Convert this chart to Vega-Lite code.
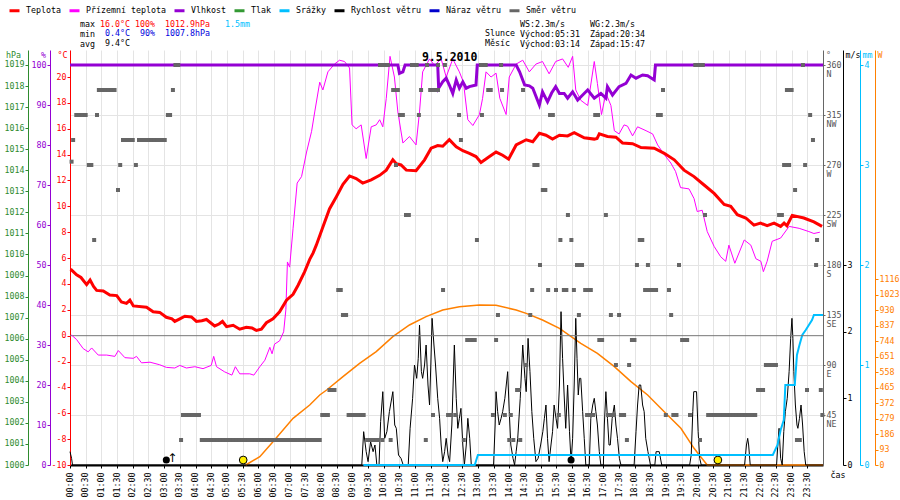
{
  "$schema": "https://vega.github.io/schema/vega-lite/v6.json",
  "width": 753,
  "height": 415,
  "autosize": {"type": "none"},
  "padding": {"left": 70, "top": 50, "right": 77, "bottom": 35},
  "background": "white",
  "config": {
    "view": {"stroke": null},
    "font": "DejaVu Sans Mono",
    "axis": {
      "labelFont": "DejaVu Sans Mono",
      "labelFontSize": 8.3,
      "titleFont": "DejaVu Sans Mono",
      "titleFontSize": 8.3,
      "titleFontWeight": "normal",
      "grid": false,
      "tickSize": 3,
      "labelPadding": 1
    },
    "legend": {
      "labelFont": "DejaVu Sans Mono",
      "labelFontSize": 8.3,
      "labelColor": "black"
    }
  },
  "datasets": {
    "temp": [
      {"h":0.02,"t":5.15},{"h":0.21,"t":4.7},{"h":0.35,"t":4.5},{"h":0.53,"t":3.95},{"h":0.64,"t":4.3},{"h":0.75,"t":3.8},{"h":0.85,"t":3.5},{"h":1.06,"t":3.45},{"h":1.27,"t":3.15},{"h":1.49,"t":3.1},{"h":1.64,"t":2.6},{"h":1.8,"t":2.5},{"h":1.91,"t":2.75},{"h":2.02,"t":2.3},{"h":2.44,"t":2.2},{"h":2.65,"t":1.85},{"h":2.86,"t":1.8},{"h":3.07,"t":1.42},{"h":3.25,"t":1.3},{"h":3.34,"t":1.1},{"h":3.5,"t":1.3},{"h":3.66,"t":1.5},{"h":3.87,"t":1.45},{"h":4.03,"t":1.1},{"h":4.2,"t":1.15},{"h":4.35,"t":1.25},{"h":4.61,"t":0.75},{"h":4.75,"t":0.9},{"h":4.86,"t":1.1},{"h":4.99,"t":0.7},{"h":5.2,"t":0.8},{"h":5.41,"t":0.5},{"h":5.62,"t":0.65},{"h":5.8,"t":0.6},{"h":5.94,"t":0.4},{"h":6.1,"t":0.5},{"h":6.26,"t":1.0},{"h":6.47,"t":1.3},{"h":6.68,"t":1.85},{"h":6.9,"t":2.75},{"h":7.11,"t":3.2},{"h":7.27,"t":3.9},{"h":7.48,"t":4.95},{"h":7.64,"t":5.9},{"h":7.75,"t":6.4},{"h":7.85,"t":7.0},{"h":8.06,"t":8.4},{"h":8.27,"t":9.8},{"h":8.49,"t":10.75},{"h":8.7,"t":11.7},{"h":8.91,"t":12.35},{"h":9.12,"t":12.15},{"h":9.33,"t":11.8},{"h":9.6,"t":12.05},{"h":9.87,"t":12.4},{"h":10.08,"t":12.8},{"h":10.29,"t":13.6},{"h":10.4,"t":13.3},{"h":10.55,"t":13.2},{"h":10.72,"t":12.8},{"h":11.03,"t":12.75},{"h":11.3,"t":13.6},{"h":11.51,"t":14.5},{"h":11.72,"t":14.7},{"h":11.88,"t":14.65},{"h":12.09,"t":15.15},{"h":12.31,"t":14.6},{"h":12.52,"t":14.3},{"h":12.73,"t":14.1},{"h":12.94,"t":13.85},{"h":13.1,"t":13.4},{"h":13.37,"t":13.85},{"h":13.58,"t":14.2},{"h":13.79,"t":13.95},{"h":13.98,"t":13.65},{"h":14.22,"t":14.75},{"h":14.54,"t":15.15},{"h":14.75,"t":15.0},{"h":14.96,"t":15.65},{"h":15.17,"t":15.5},{"h":15.38,"t":15.2},{"h":15.6,"t":15.5},{"h":15.86,"t":15.45},{"h":16.07,"t":15.7},{"h":16.39,"t":15.3},{"h":16.71,"t":15.2},{"h":16.8,"t":15.25},{"h":16.87,"t":15.6},{"h":17.13,"t":15.4},{"h":17.4,"t":15.35},{"h":17.61,"t":14.9},{"h":17.93,"t":14.85},{"h":18.2,"t":14.55},{"h":18.62,"t":14.5},{"h":18.94,"t":14.1},{"h":19.26,"t":13.6},{"h":19.57,"t":12.8},{"h":19.89,"t":12.3},{"h":20.21,"t":11.65},{"h":20.53,"t":11.0},{"h":20.85,"t":10.15},{"h":21.06,"t":10.0},{"h":21.27,"t":9.35},{"h":21.54,"t":9.1},{"h":21.8,"t":8.55},{"h":22.01,"t":8.7},{"h":22.22,"t":8.5},{"h":22.44,"t":8.7},{"h":22.65,"t":8.45},{"h":22.76,"t":8.7},{"h":22.85,"t":8.5},{"h":23.02,"t":9.3},{"h":23.39,"t":9.1},{"h":23.71,"t":8.8},{"h":23.97,"t":8.45}
    ],
    "ground": [
      {"h":0.05,"t":0.05},{"h":0.21,"t":-0.3},{"h":0.42,"t":-1.0},{"h":0.58,"t":-1.25},{"h":0.69,"t":-0.95},{"h":0.9,"t":-1.5},{"h":1.17,"t":-1.5},{"h":1.43,"t":-1.6},{"h":1.54,"t":-1.15},{"h":1.75,"t":-1.7},{"h":2.02,"t":-1.75},{"h":2.12,"t":-1.6},{"h":2.28,"t":-2.1},{"h":2.55,"t":-2.05},{"h":2.86,"t":-2.25},{"h":3.07,"t":-2.45},{"h":3.34,"t":-2.5},{"h":3.5,"t":-2.3},{"h":3.71,"t":-2.5},{"h":3.98,"t":-2.4},{"h":4.24,"t":-2.55},{"h":4.5,"t":-2.3},{"h":4.58,"t":-1.6},{"h":4.67,"t":-2.4},{"h":4.93,"t":-2.8},{"h":5.16,"t":-3.05},{"h":5.27,"t":-2.4},{"h":5.41,"t":-2.95},{"h":5.73,"t":-2.95},{"h":5.86,"t":-3.05},{"h":6.05,"t":-2.4},{"h":6.21,"t":-1.9},{"h":6.37,"t":-0.9},{"h":6.44,"t":-1.4},{"h":6.52,"t":-0.65},{"h":6.68,"t":-0.4},{"h":6.81,"t":0.3},{"h":6.88,"t":2.0},{"h":6.93,"t":5.7},{"h":7.0,"t":5.3},{"h":7.11,"t":8.3},{"h":7.24,"t":11.8},{"h":7.38,"t":12.3},{"h":7.54,"t":14.2},{"h":7.7,"t":15.8},{"h":7.8,"t":17.3},{"h":7.96,"t":19.6},{"h":8.06,"t":19.0},{"h":8.22,"t":20.4},{"h":8.43,"t":21.0},{"h":8.59,"t":21.3},{"h":8.75,"t":21.2},{"h":8.91,"t":20.7},{"h":8.99,"t":16.3},{"h":9.12,"t":16.0},{"h":9.28,"t":16.3},{"h":9.44,"t":13.7},{"h":9.6,"t":16.15},{"h":9.76,"t":16.3},{"h":9.87,"t":16.7},{"h":9.97,"t":16.15},{"h":10.08,"t":18.35},{"h":10.2,"t":21.6},{"h":10.34,"t":20.0},{"h":10.45,"t":17.3},{"h":10.61,"t":14.9},{"h":10.82,"t":15.4},{"h":11.03,"t":14.75},{"h":11.14,"t":17.3},{"h":11.24,"t":20.4},{"h":11.46,"t":21.4},{"h":11.62,"t":20.9},{"h":11.83,"t":21.4},{"h":11.99,"t":20.0},{"h":12.2,"t":21.4},{"h":12.41,"t":20.4},{"h":12.54,"t":19.6},{"h":12.68,"t":16.7},{"h":12.84,"t":16.25},{"h":13.05,"t":17.1},{"h":13.15,"t":18.35},{"h":13.26,"t":20.4},{"h":13.42,"t":20.0},{"h":13.58,"t":20.3},{"h":13.7,"t":18.35},{"h":13.9,"t":17.1},{"h":14.0,"t":20.0},{"h":14.22,"t":21.0},{"h":14.43,"t":21.3},{"h":14.64,"t":20.4},{"h":14.85,"t":21.0},{"h":15.06,"t":21.2},{"h":15.27,"t":20.25},{"h":15.48,"t":21.2},{"h":15.7,"t":21.4},{"h":15.88,"t":20.75},{"h":16.02,"t":21.6},{"h":16.12,"t":19.0},{"h":16.28,"t":18.2},{"h":16.5,"t":17.8},{"h":16.71,"t":21.2},{"h":16.81,"t":19.5},{"h":16.94,"t":17.1},{"h":17.08,"t":18.75},{"h":17.24,"t":17.8},{"h":17.35,"t":15.85},{"h":17.5,"t":15.6},{"h":17.66,"t":16.3},{"h":17.77,"t":16.2},{"h":17.93,"t":15.45},{"h":18.09,"t":16.15},{"h":18.36,"t":15.85},{"h":18.57,"t":15.6},{"h":18.73,"t":14.75},{"h":18.94,"t":14.0},{"h":19.15,"t":13.35},{"h":19.3,"t":12.7},{"h":19.46,"t":11.45},{"h":19.73,"t":11.35},{"h":19.89,"t":10.6},{"h":19.99,"t":9.6},{"h":20.15,"t":9.7},{"h":20.31,"t":8.05},{"h":20.53,"t":6.9},{"h":20.74,"t":6.1},{"h":20.9,"t":5.75},{"h":21.0,"t":7.0},{"h":21.19,"t":5.6},{"h":21.49,"t":7.4},{"h":21.7,"t":7.0},{"h":21.86,"t":5.95},{"h":22.02,"t":5.75},{"h":22.1,"t":4.95},{"h":22.22,"t":5.75},{"h":22.38,"t":7.3},{"h":22.65,"t":7.55},{"h":22.92,"t":8.45},{"h":23.24,"t":8.3},{"h":23.55,"t":8.05},{"h":23.71,"t":7.9},{"h":23.9,"t":8.0}
    ],
    "hum": [
      {"h":0,"v":100},{"h":10.45,"v":100},{"h":10.5,"v":97.9},{"h":10.61,"v":98.3},{"h":10.68,"v":100},{"h":11.72,"v":100},{"h":11.75,"v":94.2},{"h":11.88,"v":95.8},{"h":11.99,"v":96.7},{"h":12.09,"v":95},{"h":12.2,"v":92.9},{"h":12.31,"v":96.25},{"h":12.41,"v":94.2},{"h":12.52,"v":95.8},{"h":12.63,"v":94.2},{"h":12.73,"v":94.6},{"h":12.94,"v":95},{"h":12.98,"v":100},{"h":14.22,"v":100},{"h":14.33,"v":98.3},{"h":14.49,"v":95},{"h":14.64,"v":94.8},{"h":14.75,"v":94.2},{"h":14.96,"v":90},{"h":15.06,"v":93.3},{"h":15.22,"v":90.8},{"h":15.35,"v":93},{"h":15.48,"v":94.6},{"h":15.6,"v":92.9},{"h":15.75,"v":92.9},{"h":15.86,"v":91.7},{"h":16.02,"v":93.3},{"h":16.18,"v":91.25},{"h":16.34,"v":92.5},{"h":16.5,"v":93.75},{"h":16.71,"v":91.7},{"h":16.92,"v":92.9},{"h":17.08,"v":91.7},{"h":17.13,"v":94.6},{"h":17.29,"v":92.5},{"h":17.5,"v":94.6},{"h":17.72,"v":95.4},{"h":17.88,"v":97.5},{"h":18.04,"v":96.7},{"h":18.25,"v":97.5},{"h":18.41,"v":97.3},{"h":18.62,"v":96.25},{"h":18.66,"v":100},{"h":24,"v":100}
    ],
    "wind": [
      {"h":0,"v":0.2},{"h":0.05,"v":0.1},{"h":0.08,"v":0},{"h":9.3,"v":0},{"h":9.36,"v":0.5},{"h":9.44,"v":0.2},{"h":9.5,"v":0.05},{"h":9.58,"v":0.35},{"h":9.66,"v":0.2},{"h":9.72,"v":0.3},{"h":9.78,"v":0},{"h":9.85,"v":0},{"h":9.9,"v":0.65},{"h":9.97,"v":1.1},{"h":10.03,"v":0.4},{"h":10.1,"v":0.5},{"h":10.18,"v":0.8},{"h":10.29,"v":1.1},{"h":10.35,"v":0.6},{"h":10.4,"v":0.55},{"h":10.47,"v":0.15},{"h":10.55,"v":0.1},{"h":10.62,"v":0},{"h":10.78,"v":0},{"h":10.84,"v":0.55},{"h":10.92,"v":1.0},{"h":10.98,"v":1.5},{"h":11.05,"v":1.3},{"h":11.1,"v":1.6},{"h":11.14,"v":2.1},{"h":11.2,"v":1.4},{"h":11.24,"v":1.3},{"h":11.3,"v":1.5},{"h":11.35,"v":1.8},{"h":11.41,"v":1.2},{"h":11.46,"v":0.9},{"h":11.5,"v":1.5},{"h":11.54,"v":2.2},{"h":11.6,"v":1.8},{"h":11.65,"v":1.5},{"h":11.72,"v":1.0},{"h":11.78,"v":0.7},{"h":11.83,"v":0.3},{"h":11.88,"v":0.05},{"h":11.94,"v":0.2},{"h":11.99,"v":0.4},{"h":12.05,"v":0.15},{"h":12.1,"v":0.05},{"h":12.17,"v":0.6},{"h":12.25,"v":1.8},{"h":12.31,"v":1.0},{"h":12.36,"v":0.55},{"h":12.41,"v":0.7},{"h":12.46,"v":0.85},{"h":12.52,"v":0.3},{"h":12.57,"v":0},{"h":12.63,"v":0.3},{"h":12.68,"v":0.7},{"h":12.74,"v":0.4},{"h":12.79,"v":0},{"h":13.5,"v":0},{"h":13.55,"v":0.6},{"h":13.58,"v":1.1},{"h":13.63,"v":0.8},{"h":13.68,"v":0.6},{"h":13.74,"v":0.7},{"h":13.79,"v":0.8},{"h":13.86,"v":1.0},{"h":13.95,"v":1.4},{"h":14.0,"v":0.8},{"h":14.05,"v":0.3},{"h":14.12,"v":0.1},{"h":14.17,"v":0},{"h":14.22,"v":0.2},{"h":14.27,"v":0.4},{"h":14.35,"v":1.0},{"h":14.43,"v":1.8},{"h":14.5,"v":1.3},{"h":14.54,"v":1.1},{"h":14.6,"v":1.9},{"h":14.66,"v":1.4},{"h":14.72,"v":0.8},{"h":14.78,"v":0.4},{"h":14.85,"v":0.05},{"h":14.92,"v":0.1},{"h":15.0,"v":0.3},{"h":15.07,"v":0.5},{"h":15.12,"v":0.7},{"h":15.17,"v":0.9},{"h":15.22,"v":0.4},{"h":15.27,"v":0.05},{"h":15.33,"v":0.3},{"h":15.38,"v":0.5},{"h":15.43,"v":0.9},{"h":15.49,"v":0.7},{"h":15.54,"v":0.55},{"h":15.6,"v":1.2},{"h":15.65,"v":2.3},{"h":15.7,"v":1.6},{"h":15.75,"v":1.05},{"h":15.8,"v":0.55},{"h":15.86,"v":1.2},{"h":15.92,"v":0.5},{"h":15.97,"v":0.05},{"h":16.02,"v":0.4},{"h":16.07,"v":1.2},{"h":16.12,"v":2.2},{"h":16.16,"v":1.6},{"h":16.2,"v":1.05},{"h":16.24,"v":1.3},{"h":16.28,"v":1.3},{"h":16.34,"v":0.8},{"h":16.39,"v":0.4},{"h":16.44,"v":0},{"h":16.55,"v":0},{"h":16.6,"v":0.7},{"h":16.66,"v":0.9},{"h":16.71,"v":1.0},{"h":16.76,"v":0.8},{"h":16.81,"v":0.6},{"h":16.87,"v":0.2},{"h":16.92,"v":0},{"h":17.0,"v":0},{"h":17.03,"v":0.6},{"h":17.08,"v":1.1},{"h":17.13,"v":0.7},{"h":17.18,"v":0.3},{"h":17.22,"v":0.3},{"h":17.28,"v":0.7},{"h":17.35,"v":0.9},{"h":17.4,"v":0.6},{"h":17.45,"v":0.4},{"h":17.51,"v":0.1},{"h":17.56,"v":0},{"h":17.98,"v":0},{"h":18.04,"v":0.5},{"h":18.09,"v":0.9},{"h":18.14,"v":1.2},{"h":18.19,"v":1.2},{"h":18.25,"v":0.9},{"h":18.3,"v":0.8},{"h":18.35,"v":0.4},{"h":18.42,"v":0.2},{"h":18.5,"v":0},{"h":18.64,"v":0},{"h":18.68,"v":0.2},{"h":18.78,"v":0.2},{"h":18.86,"v":0},{"h":19.75,"v":0},{"h":19.8,"v":0.15},{"h":19.85,"v":0.8},{"h":19.88,"v":1.1},{"h":19.97,"v":1.1},{"h":20.02,"v":0.5},{"h":20.07,"v":0.1},{"h":20.12,"v":0},{"h":21.5,"v":0},{"h":21.56,"v":0.3},{"h":21.6,"v":0.4},{"h":21.63,"v":0.3},{"h":21.68,"v":0},{"h":22.52,"v":0},{"h":22.56,"v":0.3},{"h":22.6,"v":0.55},{"h":22.65,"v":0.1},{"h":22.7,"v":0},{"h":22.75,"v":0.5},{"h":22.8,"v":0.8},{"h":22.86,"v":1.0},{"h":22.92,"v":1.4},{"h":22.97,"v":1.9},{"h":23.01,"v":2.2},{"h":23.04,"v":1.9},{"h":23.07,"v":1.4},{"h":23.12,"v":0.9},{"h":23.17,"v":0.6},{"h":23.2,"v":0.55},{"h":23.25,"v":0.7},{"h":23.3,"v":0.9},{"h":23.35,"v":0.6},{"h":23.4,"v":0.2},{"h":23.45,"v":0},{"h":24,"v":0}
    ],
    "rain": [
      {"h":9.35,"mm":0},{"h":12.9,"mm":0},{"h":13.0,"mm":0.1},{"h":22.4,"mm":0.1},{"h":22.55,"mm":0.2},{"h":22.65,"mm":0.35},{"h":22.75,"mm":0.45},{"h":22.8,"mm":0.8},{"h":23.1,"mm":0.8},{"h":23.17,"mm":1.1},{"h":23.25,"mm":1.2},{"h":23.34,"mm":1.3},{"h":23.45,"mm":1.35},{"h":23.55,"mm":1.4},{"h":23.65,"mm":1.45},{"h":23.71,"mm":1.5},{"h":24,"mm":1.5}
    ],
    "solar": [
      {"h":5.6,"w":0},{"h":6.05,"w":50},{"h":6.47,"w":140},{"h":7.11,"w":280},{"h":7.64,"w":360},{"h":7.96,"w":420},{"h":8.18,"w":450},{"h":8.7,"w":530},{"h":9.23,"w":610},{"h":9.76,"w":680},{"h":10.29,"w":770},{"h":10.82,"w":840},{"h":11.35,"w":890},{"h":11.88,"w":930},{"h":12.41,"w":950},{"h":13.05,"w":960},{"h":13.58,"w":958},{"h":14.22,"w":930},{"h":14.54,"w":910},{"h":15.06,"w":870},{"h":15.6,"w":820},{"h":16.28,"w":730},{"h":16.81,"w":670},{"h":17.35,"w":590},{"h":17.88,"w":500},{"h":18.41,"w":420},{"h":18.94,"w":320},{"h":19.47,"w":220},{"h":19.89,"w":100},{"h":20.1,"w":50},{"h":20.31,"w":0},{"h":24,"w":0}
    ],
    "astro": [
      {"h":5.52,"body":"sun","event":"rise"},{"h":20.65,"body":"sun","event":"set"},{"h":3.07,"body":"moon","event":"rise"},{"h":15.97,"body":"moon","event":"set"}
    ],
    "dir": [
      {"h":3.36,"d":360},{"h":3.45,"d":360},{"h":9.88,"d":360},{"h":9.98,"d":360},{"h":10.08,"d":360},{"h":10.13,"d":360},{"h":10.9,"d":360},{"h":11.0,"d":360},{"h":11.05,"d":360},{"h":11.38,"d":360},{"h":11.73,"d":360},{"h":11.95,"d":360},{"h":13.1,"d":360},{"h":13.2,"d":360},{"h":13.25,"d":360},{"h":13.74,"d":360},{"h":19.93,"d":360},{"h":20.03,"d":360},{"h":20.13,"d":360},{"h":20.17,"d":360},{"h":23.36,"d":360},
      {"h":0.92,"d":337.5},{"h":1.02,"d":337.5},{"h":1.12,"d":337.5},{"h":1.22,"d":337.5},{"h":1.32,"d":337.5},{"h":1.42,"d":337.5},{"h":3.28,"d":337.5},{"h":10.3,"d":337.5},{"h":10.4,"d":337.5},{"h":10.45,"d":337.5},{"h":11.19,"d":337.5},{"h":11.48,"d":337.5},{"h":11.58,"d":337.5},{"h":11.68,"d":337.5},{"h":11.73,"d":337.5},{"h":13.33,"d":337.5},{"h":13.41,"d":337.5},{"h":13.77,"d":337.5},{"h":14.44,"d":337.5},{"h":18.9,"d":337.5},{"h":22.85,"d":337.5},{"h":22.95,"d":337.5},{"h":23.0,"d":337.5},
      {"h":0.2,"d":315},{"h":0.3,"d":315},{"h":0.4,"d":315},{"h":0.5,"d":315},{"h":0.86,"d":315},{"h":3.12,"d":315},{"h":3.19,"d":315},{"h":10.52,"d":315},{"h":10.61,"d":315},{"h":11.12,"d":315},{"h":12.4,"d":315},{"h":13.13,"d":315},{"h":15.3,"d":315},{"h":15.39,"d":315},{"h":16.74,"d":315},{"h":16.83,"d":315},{"h":18.74,"d":315},{"h":18.83,"d":315},{"h":23.59,"d":315},
      {"h":0.1,"d":292.5},{"h":1.69,"d":292.5},{"h":1.79,"d":292.5},{"h":1.89,"d":292.5},{"h":2.0,"d":292.5},{"h":2.2,"d":292.5},{"h":2.3,"d":292.5},{"h":2.4,"d":292.5},{"h":2.5,"d":292.5},{"h":2.6,"d":292.5},{"h":2.7,"d":292.5},{"h":2.8,"d":292.5},{"h":2.9,"d":292.5},{"h":3.02,"d":292.5},{"h":12.46,"d":292.5},{"h":23.68,"d":292.5},
      {"h":0.05,"d":273},{"h":0.6,"d":270},{"h":0.68,"d":270},{"h":1.6,"d":270},{"h":2.1,"d":270},{"h":10.39,"d":270},{"h":14.8,"d":270},{"h":14.9,"d":270},{"h":22.76,"d":270},{"h":22.86,"d":270},{"h":22.92,"d":270},{"h":23.43,"d":270},
      {"h":1.53,"d":247.5},{"h":15.07,"d":247.5},{"h":15.15,"d":247.5},{"h":23.11,"d":247.5},
      {"h":10.71,"d":225},{"h":10.8,"d":225},{"h":15.87,"d":225},{"h":17.08,"d":225},{"h":20.24,"d":225},{"h":22.6,"d":225},{"h":22.69,"d":225},
      {"h":0.77,"d":202.5},{"h":12.97,"d":202.5},{"h":15.63,"d":202.5},{"h":15.98,"d":202.5},{"h":18.16,"d":202.5},{"h":18.24,"d":202.5},{"h":23.81,"d":202.5},
      {"h":14.98,"d":180},{"h":16.16,"d":180},{"h":16.26,"d":180},{"h":16.32,"d":180},{"h":18.07,"d":180},{"h":18.42,"d":180},{"h":19.41,"d":180},{"h":23.78,"d":180},
      {"h":8.55,"d":157.5},{"h":8.63,"d":157.5},{"h":11.89,"d":157.5},{"h":14.73,"d":157.5},{"h":15.24,"d":157.5},{"h":15.49,"d":157.5},{"h":15.74,"d":157.5},{"h":15.82,"d":157.5},{"h":16.06,"d":157.5},{"h":16.42,"d":157.5},{"h":16.52,"d":157.5},{"h":16.6,"d":157.5},{"h":18.33,"d":157.5},{"h":18.43,"d":157.5},{"h":18.53,"d":157.5},{"h":18.63,"d":157.5},{"h":18.68,"d":157.5},{"h":19.09,"d":157.5},
      {"h":8.7,"d":135},{"h":8.8,"d":135},{"h":13.64,"d":135},{"h":14.67,"d":135},{"h":16.22,"d":135},{"h":17.24,"d":135},{"h":17.5,"d":135},{"h":19.16,"d":135},
      {"h":12.66,"d":112.5},{"h":12.76,"d":112.5},{"h":12.86,"d":112.5},{"h":12.9,"d":112.5},{"h":13.58,"d":112.5},{"h":16.87,"d":112.5},{"h":16.96,"d":112.5},{"h":17.91,"d":112.5},{"h":17.99,"d":112.5},{"h":19.51,"d":112.5},{"h":19.61,"d":112.5},{"h":19.67,"d":112.5},
      {"h":14.54,"d":90},{"h":17.4,"d":90},{"h":17.82,"d":90},{"h":22.18,"d":90},{"h":22.28,"d":90},{"h":22.38,"d":90},{"h":22.5,"d":90},
      {"h":8.27,"d":67.5},{"h":8.37,"d":67.5},{"h":8.43,"d":67.5},{"h":14.25,"d":67.5},{"h":14.31,"d":67.5},{"h":21.93,"d":67.5},{"h":22.03,"d":67.5},{"h":22.09,"d":67.5},{"h":23.49,"d":67.5},{"h":23.93,"d":67.5},
      {"h":3.6,"d":45},{"h":3.7,"d":45},{"h":3.8,"d":45},{"h":3.9,"d":45},{"h":4.0,"d":45},{"h":4.11,"d":45},{"h":8.04,"d":45},{"h":8.14,"d":45},{"h":8.22,"d":45},{"h":8.88,"d":45},{"h":8.98,"d":45},{"h":9.08,"d":45},{"h":9.18,"d":45},{"h":9.28,"d":45},{"h":9.36,"d":45},{"h":11.57,"d":45},{"h":12.05,"d":45},{"h":12.15,"d":45},{"h":12.28,"d":45},{"h":13.48,"d":45},{"h":13.86,"d":45},{"h":14.05,"d":45},{"h":15.58,"d":45},{"h":16.48,"d":45},{"h":16.58,"d":45},{"h":16.67,"d":45},{"h":17.15,"d":45},{"h":17.25,"d":45},{"h":17.33,"d":45},{"h":17.56,"d":45},{"h":17.66,"d":45},{"h":18.99,"d":45},{"h":19.23,"d":45},{"h":19.33,"d":45},{"h":19.76,"d":45},{"h":20.34,"d":45},{"h":20.44,"d":45},{"h":20.54,"d":45},{"h":20.64,"d":45},{"h":20.74,"d":45},{"h":20.84,"d":45},{"h":20.94,"d":45},{"h":21.04,"d":45},{"h":21.14,"d":45},{"h":21.24,"d":45},{"h":21.34,"d":45},{"h":21.44,"d":45},{"h":21.54,"d":45},{"h":21.64,"d":45},{"h":21.74,"d":45},{"h":21.84,"d":45},{"h":23.98,"d":45},
      {"h":3.54,"d":22.5},{"h":4.2,"d":22.5},{"h":4.3,"d":22.5},{"h":4.4,"d":22.5},{"h":4.5,"d":22.5},{"h":4.6,"d":22.5},{"h":4.7,"d":22.5},{"h":4.8,"d":22.5},{"h":4.9,"d":22.5},{"h":5.0,"d":22.5},{"h":5.1,"d":22.5},{"h":5.2,"d":22.5},{"h":5.3,"d":22.5},{"h":5.4,"d":22.5},{"h":5.5,"d":22.5},{"h":5.6,"d":22.5},{"h":5.7,"d":22.5},{"h":5.8,"d":22.5},{"h":5.9,"d":22.5},{"h":6.0,"d":22.5},{"h":6.1,"d":22.5},{"h":6.2,"d":22.5},{"h":6.3,"d":22.5},{"h":6.4,"d":22.5},{"h":6.5,"d":22.5},{"h":6.6,"d":22.5},{"h":6.7,"d":22.5},{"h":6.8,"d":22.5},{"h":6.9,"d":22.5},{"h":7.0,"d":22.5},{"h":7.1,"d":22.5},{"h":7.2,"d":22.5},{"h":7.3,"d":22.5},{"h":7.4,"d":22.5},{"h":7.5,"d":22.5},{"h":7.6,"d":22.5},{"h":7.7,"d":22.5},{"h":7.8,"d":22.5},{"h":7.9,"d":22.5},{"h":7.96,"d":22.5},{"h":9.47,"d":22.5},{"h":9.57,"d":22.5},{"h":9.67,"d":22.5},{"h":9.77,"d":22.5},{"h":9.82,"d":22.5},{"h":9.96,"d":22.5},{"h":10.22,"d":22.5},{"h":11.34,"d":22.5},{"h":12.55,"d":22.5},{"h":14.0,"d":22.5},{"h":14.13,"d":22.5},{"h":14.35,"d":22.5},{"h":17.75,"d":22.5},{"h":20.08,"d":22.5},{"h":23.17,"d":22.5},{"h":23.26,"d":22.5}
    ]
  },
  "layer": [
    {
      "data": {"values": []},
      "mark": {"type": "line"},
      "encoding": {
        "x": {"field": "h", "type": "quantitative", "scale": {"domain": [0, 24], "nice": false, "zero": false}, "axis": null},
        "y": {"field": "p", "type": "quantitative", "scale": {"domain": [1000, 1019.71], "nice": false, "zero": false},
          "axis": {"orient": "left", "offset": 42, "format": "d", "values": [1000,1001,1002,1003,1004,1005,1006,1007,1008,1009,1010,1011,1012,1013,1014,1015,1016,1017,1018,1019],
            "labelColor": "#2e8b2e", "tickColor": "#2e8b2e", "domainColor": "#2e8b2e",
            "title": "hPa", "titleColor": "#2e8b2e", "titleAngle": 0, "titleX": -15, "titleY": 5, "titleAlign": "center", "titleBaseline": "middle"}},
        "color": {"datum": "Tlak"}
      }
    },
    {
      "data": {"name": "solar"},
      "mark": {"type": "line", "color": "#ff8000", "strokeWidth": 1.5},
      "encoding": {
        "x": {"field": "h", "type": "quantitative", "scale": {"domain": [0, 24], "nice": false, "zero": false}, "axis": null},
        "y": {"field": "w", "type": "quantitative", "scale": {"domain": [0, 2490], "nice": false, "zero": false},
          "axis": {"orient": "right", "offset": 52, "format": "d", "values": [0,93,186,279,372,465,558,651,744,837,930,1023,1116],
            "labelColor": "#ff8000", "tickColor": "#ff8000", "domainColor": "#ff8000",
            "title": "W", "titleColor": "#ff8000", "titleAngle": 0, "titleX": 2, "titleY": 5, "titleAlign": "left", "titleBaseline": "middle"}}
      }
    },
    {
      "data": {"name": "wind"},
      "mark": {"type": "line", "strokeWidth": 1},
      "encoding": {
        "x": {"field": "h", "type": "quantitative", "scale": {"domain": [0, 24], "nice": false, "zero": false}, "axis": null},
        "y": {"field": "v", "type": "quantitative", "scale": {"domain": [0, 6.225], "nice": false, "zero": false},
          "axis": {"orient": "right", "offset": 20, "values": [0,1,2,3],
            "labelColor": "black", "tickColor": "black", "domainColor": "black",
            "title": "m/s", "titleColor": "black", "titleAngle": 0, "titleX": 2, "titleY": 5, "titleAlign": "left", "titleBaseline": "middle"}},
        "color": {"datum": "Rychlost větru"}
      }
    },
    {
      "data": {"name": "astro"},
      "transform": [{"filter": "datum.body == 'sun'"}],
      "mark": {"type": "point", "shape": "circle", "filled": true, "size": 60, "fill": "#ffee00", "stroke": "#000000", "strokeWidth": 1, "opacity": 1},
      "encoding": {
        "x": {"field": "h", "type": "quantitative", "scale": {"domain": [0, 24], "nice": false, "zero": false}, "axis": null},
        "y": {"datum": 0.075, "type": "quantitative", "scale": {"domain": [0, 6.225], "nice": false, "zero": false}, "axis": null}
      }
    },
    {
      "data": {"name": "astro"},
      "transform": [{"filter": "datum.body == 'moon'"}],
      "mark": {"type": "point", "shape": "circle", "filled": true, "size": 50, "fill": "#000000", "opacity": 1},
      "encoding": {
        "x": {"field": "h", "type": "quantitative", "scale": {"domain": [0, 24], "nice": false, "zero": false}, "axis": null},
        "y": {"datum": 0.075, "type": "quantitative", "scale": {"domain": [0, 6.225], "nice": false, "zero": false}, "axis": null}
      }
    },
    {
      "data": {"values": [{}]},
      "mark": {"type": "text", "text": "↑", "fontSize": 12, "font": "DejaVu Sans", "color": "#000000", "baseline": "middle"},
      "encoding": {
        "x": {"datum": 3.26, "type": "quantitative", "scale": {"domain": [0, 24], "nice": false, "zero": false}, "axis": null},
        "y": {"datum": 0.1, "type": "quantitative", "scale": {"domain": [0, 6.225], "nice": false, "zero": false}, "axis": null}
      }
    },
    {
      "data": {"name": "rain"},
      "mark": {"type": "line", "strokeWidth": 2},
      "encoding": {
        "x": {"field": "h", "type": "quantitative", "scale": {"domain": [0, 24], "nice": false, "zero": false}, "axis": null},
        "y": {"field": "mm", "type": "quantitative", "scale": {"domain": [0, 4.15], "nice": false, "zero": false},
          "axis": {"orient": "right", "offset": 37, "values": [0,1,2,3,4],
            "labelColor": "#00bfff", "tickColor": "#00bfff", "domainColor": "#00bfff",
            "title": "mm", "titleColor": "#00bfff", "titleAngle": 0, "titleX": 2, "titleY": 5, "titleAlign": "left", "titleBaseline": "middle"}},
        "color": {"datum": "Srážky"}
      }
    },
    {
      "data": {"values": [{}]},
      "mark": {"type": "rule", "color": "#777777", "strokeWidth": 1},
      "encoding": {
        "y": {"datum": 0, "type": "quantitative", "scale": {"domain": [-10, 22.09], "nice": false, "zero": false}, "axis": null}
      }
    },
    {
      "data": {"name": "ground"},
      "mark": {"type": "line", "strokeWidth": 1},
      "encoding": {
        "x": {"field": "h", "type": "quantitative", "scale": {"domain": [0, 24], "nice": false, "zero": false}, "axis": null},
        "y": {"field": "t", "type": "quantitative", "scale": {"domain": [-10, 22.09], "nice": false, "zero": false}, "axis": null},
        "color": {"datum": "Přízemní teplota"}
      }
    },
    {
      "data": {"name": "temp"},
      "mark": {"type": "line", "strokeWidth": 3},
      "encoding": {
        "x": {"field": "h", "type": "quantitative", "scale": {"domain": [0, 24], "nice": false, "zero": false},
          "axis": {"orient": "bottom", "values": [0,0.5,1,1.5,2,2.5,3,3.5,4,4.5,5,5.5,6,6.5,7,7.5,8,8.5,9,9.5,10,10.5,11,11.5,12,12.5,13,13.5,14,14.5,15,15.5,16,16.5,17,17.5,18,18.5,19,19.5,20,20.5,21,21.5,22,22.5,23,23.5],
            "labelExpr": "(datum.value < 10 ? '0' : '') + floor(datum.value) + ':' + (datum.value % 1 ? '30' : '00')",
            "labelAngle": 270, "labelPadding": 4, "labelColor": "black", "tickColor": "black", "tickSize": 3,
            "domainColor": "black", "domainWidth": 2, "grid": true, "gridColor": "#e4e4e4",
            "title": "čas", "titleColor": "black", "titleAngle": 0, "titleX": 760, "titleY": 10, "titleAlign": "left", "titleBaseline": "middle"}},
        "y": {"field": "t", "type": "quantitative", "scale": {"domain": [-10, 22.09], "nice": false, "zero": false},
          "axis": {"orient": "left", "offset": 0, "values": [-10,-8,-6,-4,-2,0,2,4,6,8,10,12,14,16,18,20],
            "labelExpr": "toString(datum.value)",
            "labelColor": "#ff0000", "tickColor": "#ff0000", "domainColor": "#ff0000",
            "title": "°C", "titleColor": "#ff0000", "titleAngle": 0, "titleX": -8, "titleY": 5, "titleAlign": "center", "titleBaseline": "middle"}},
        "color": {"datum": "Teplota",
          "scale": {"domain": ["Teplota", "Přízemní teplota", "Vlhkost", "Tlak", "Srážky", "Rychlost větru", "Náraz větru", "Směr větru"],
            "range": ["#ff0000", "#ff00ff", "#9400d3", "#339933", "#00bfff", "#000000", "#0000cc", "#666666"]},
          "legend": {"orient": "none", "legendX": -62, "legendY": -46, "direction": "horizontal", "title": null,
            "symbolType": "stroke", "symbolStrokeWidth": 3, "symbolSize": 100, "columnPadding": 2, "labelOffset": 5, "padding": 0}}
      }
    },
    {
      "data": {"values": [{}]},
      "mark": {"type": "text", "text": ["max", "min", "avg"], "align": "left", "baseline": "middle", "lineHeight": 10, "font": "DejaVu Sans Mono", "fontSize": 8.3, "color": "#000000"},
      "encoding": {
        "x": {"datum": 0.319, "type": "quantitative", "scale": {"domain": [0, 24], "nice": false, "zero": false}, "axis": null},
        "y": {"datum": 24.06, "type": "quantitative", "scale": {"domain": [-10, 22.09], "nice": false, "zero": false}, "axis": null}
      }
    },
    {
      "data": {"values": [{}]},
      "mark": {"type": "text", "text": "16.0°C", "align": "right", "baseline": "middle", "font": "DejaVu Sans Mono", "fontSize": 8.3, "color": "#ff0000"},
      "encoding": {
        "x": {"datum": 1.912, "type": "quantitative", "scale": {"domain": [0, 24], "nice": false, "zero": false}, "axis": null},
        "y": {"datum": 24.06, "type": "quantitative", "scale": {"domain": [-10, 22.09], "nice": false, "zero": false}, "axis": null}
      }
    },
    {
      "data": {"values": [{}]},
      "mark": {"type": "text", "text": "0.4°C", "align": "right", "baseline": "middle", "font": "DejaVu Sans Mono", "fontSize": 8.3, "color": "#0000dd"},
      "encoding": {
        "x": {"datum": 1.912, "type": "quantitative", "scale": {"domain": [0, 24], "nice": false, "zero": false}, "axis": null},
        "y": {"datum": 23.29, "type": "quantitative", "scale": {"domain": [-10, 22.09], "nice": false, "zero": false}, "axis": null}
      }
    },
    {
      "data": {"values": [{}]},
      "mark": {"type": "text", "text": "9.4°C", "align": "right", "baseline": "middle", "font": "DejaVu Sans Mono", "fontSize": 8.3, "color": "#000000"},
      "encoding": {
        "x": {"datum": 1.912, "type": "quantitative", "scale": {"domain": [0, 24], "nice": false, "zero": false}, "axis": null},
        "y": {"datum": 22.52, "type": "quantitative", "scale": {"domain": [-10, 22.09], "nice": false, "zero": false}, "axis": null}
      }
    },
    {
      "data": {"values": [{}]},
      "mark": {"type": "text", "text": "100%", "align": "right", "baseline": "middle", "font": "DejaVu Sans Mono", "fontSize": 8.3, "color": "#ff0000"},
      "encoding": {
        "x": {"datum": 2.709, "type": "quantitative", "scale": {"domain": [0, 24], "nice": false, "zero": false}, "axis": null},
        "y": {"datum": 24.06, "type": "quantitative", "scale": {"domain": [-10, 22.09], "nice": false, "zero": false}, "axis": null}
      }
    },
    {
      "data": {"values": [{}]},
      "mark": {"type": "text", "text": "90%", "align": "right", "baseline": "middle", "font": "DejaVu Sans Mono", "fontSize": 8.3, "color": "#0000dd"},
      "encoding": {
        "x": {"datum": 2.709, "type": "quantitative", "scale": {"domain": [0, 24], "nice": false, "zero": false}, "axis": null},
        "y": {"datum": 23.29, "type": "quantitative", "scale": {"domain": [-10, 22.09], "nice": false, "zero": false}, "axis": null}
      }
    },
    {
      "data": {"values": [{}]},
      "mark": {"type": "text", "text": "1012.9hPa", "align": "left", "baseline": "middle", "font": "DejaVu Sans Mono", "fontSize": 8.3, "color": "#ff0000"},
      "encoding": {
        "x": {"datum": 3.028, "type": "quantitative", "scale": {"domain": [0, 24], "nice": false, "zero": false}, "axis": null},
        "y": {"datum": 24.06, "type": "quantitative", "scale": {"domain": [-10, 22.09], "nice": false, "zero": false}, "axis": null}
      }
    },
    {
      "data": {"values": [{}]},
      "mark": {"type": "text", "text": "1007.8hPa", "align": "left", "baseline": "middle", "font": "DejaVu Sans Mono", "fontSize": 8.3, "color": "#0000dd"},
      "encoding": {
        "x": {"datum": 3.028, "type": "quantitative", "scale": {"domain": [0, 24], "nice": false, "zero": false}, "axis": null},
        "y": {"datum": 23.29, "type": "quantitative", "scale": {"domain": [-10, 22.09], "nice": false, "zero": false}, "axis": null}
      }
    },
    {
      "data": {"values": [{}]},
      "mark": {"type": "text", "text": "1.5mm", "align": "left", "baseline": "middle", "font": "DejaVu Sans Mono", "fontSize": 8.3, "color": "#00bfff"},
      "encoding": {
        "x": {"datum": 4.94, "type": "quantitative", "scale": {"domain": [0, 24], "nice": false, "zero": false}, "axis": null},
        "y": {"datum": 24.06, "type": "quantitative", "scale": {"domain": [-10, 22.09], "nice": false, "zero": false}, "axis": null}
      }
    },
    {
      "data": {"values": [{}]},
      "mark": {"type": "text", "text": ["Slunce", "Měsíc"], "align": "left", "baseline": "middle", "lineHeight": 10, "font": "DejaVu Sans Mono", "fontSize": 8.3, "color": "#000000"},
      "encoding": {
        "x": {"datum": 13.227, "type": "quantitative", "scale": {"domain": [0, 24], "nice": false, "zero": false}, "axis": null},
        "y": {"datum": 23.29, "type": "quantitative", "scale": {"domain": [-10, 22.09], "nice": false, "zero": false}, "axis": null}
      }
    },
    {
      "data": {"values": [{}]},
      "mark": {"type": "text", "text": ["WS:2.3m/s", "Východ:05:31", "Východ:03:14"], "align": "left", "baseline": "middle", "lineHeight": 10, "font": "DejaVu Sans Mono", "fontSize": 8.3, "color": "#000000"},
      "encoding": {
        "x": {"datum": 14.343, "type": "quantitative", "scale": {"domain": [0, 24], "nice": false, "zero": false}, "axis": null},
        "y": {"datum": 24.06, "type": "quantitative", "scale": {"domain": [-10, 22.09], "nice": false, "zero": false}, "axis": null}
      }
    },
    {
      "data": {"values": [{}]},
      "mark": {"type": "text", "text": ["WG:2.3m/s", "Západ:20:34", "Západ:15:47"], "align": "left", "baseline": "middle", "lineHeight": 10, "font": "DejaVu Sans Mono", "fontSize": 8.3, "color": "#000000"},
      "encoding": {
        "x": {"datum": 16.574, "type": "quantitative", "scale": {"domain": [0, 24], "nice": false, "zero": false}, "axis": null},
        "y": {"datum": 24.06, "type": "quantitative", "scale": {"domain": [-10, 22.09], "nice": false, "zero": false}, "axis": null}
      }
    },
    {
      "data": {"values": [{}]},
      "mark": {"type": "text", "text": "9.5.2010", "align": "center", "baseline": "middle", "font": "DejaVu Sans Mono", "fontSize": 11.5, "fontWeight": "bold", "color": "#000000"},
      "encoding": {
        "x": {"datum": 12.1, "type": "quantitative", "scale": {"domain": [0, 24], "nice": false, "zero": false}, "axis": null},
        "y": {"datum": 21.45, "type": "quantitative", "scale": {"domain": [-10, 22.09], "nice": false, "zero": false}, "axis": null}
      }
    },
    {
      "data": {"name": "hum"},
      "mark": {"type": "line", "strokeWidth": 3},
      "encoding": {
        "x": {"field": "h", "type": "quantitative", "scale": {"domain": [0, 24], "nice": false, "zero": false}, "axis": null},
        "y": {"field": "v", "type": "quantitative", "scale": {"domain": [0, 103.75], "nice": false, "zero": false},
          "axis": {"orient": "left", "offset": 20, "values": [0,10,20,30,40,50,60,70,80,90,100],
            "labelColor": "#9400d3", "tickColor": "#9400d3", "domainColor": "#9400d3",
            "title": "%", "titleColor": "#9400d3", "titleAngle": 0, "titleX": -7, "titleY": 5, "titleAlign": "center", "titleBaseline": "middle"}},
        "color": {"datum": "Vlhkost"}
      }
    },
    {
      "data": {"name": "dir"},
      "mark": {"type": "point", "shape": "square", "filled": true, "size": 16, "color": "#666666", "opacity": 1},
      "encoding": {
        "x": {"field": "h", "type": "quantitative", "scale": {"domain": [0, 24], "nice": false, "zero": false}, "axis": null},
        "y": {"field": "d", "type": "quantitative", "scale": {"domain": [0, 373.5], "nice": false, "zero": false},
          "axis": {"orient": "right", "offset": 0, "values": [45,90,135,180,225,270,315,360],
            "labelExpr": "[datum.label, datum.value == 360 ? ' N' : datum.value == 315 ? 'NW' : datum.value == 270 ? ' W' : datum.value == 225 ? 'SW' : datum.value == 180 ? ' S' : datum.value == 135 ? 'SE' : datum.value == 90 ? ' E' : 'NE']",
            "labelLineHeight": 9, "labelAlign": "left", "labelBaseline": "middle",
            "labelColor": "#555555", "tickColor": "#666666", "domainColor": "#666666", "tickSize": 2,
            "grid": true, "gridColor": "#e4e4e4",
            "title": "°", "titleColor": "#666666", "titleAngle": 0, "titleX": 5, "titleY": 5, "titleAlign": "center", "titleBaseline": "middle"}}
      }
    }
  ],
  "resolve": {"scale": {"x": "independent", "y": "independent"}}
}
